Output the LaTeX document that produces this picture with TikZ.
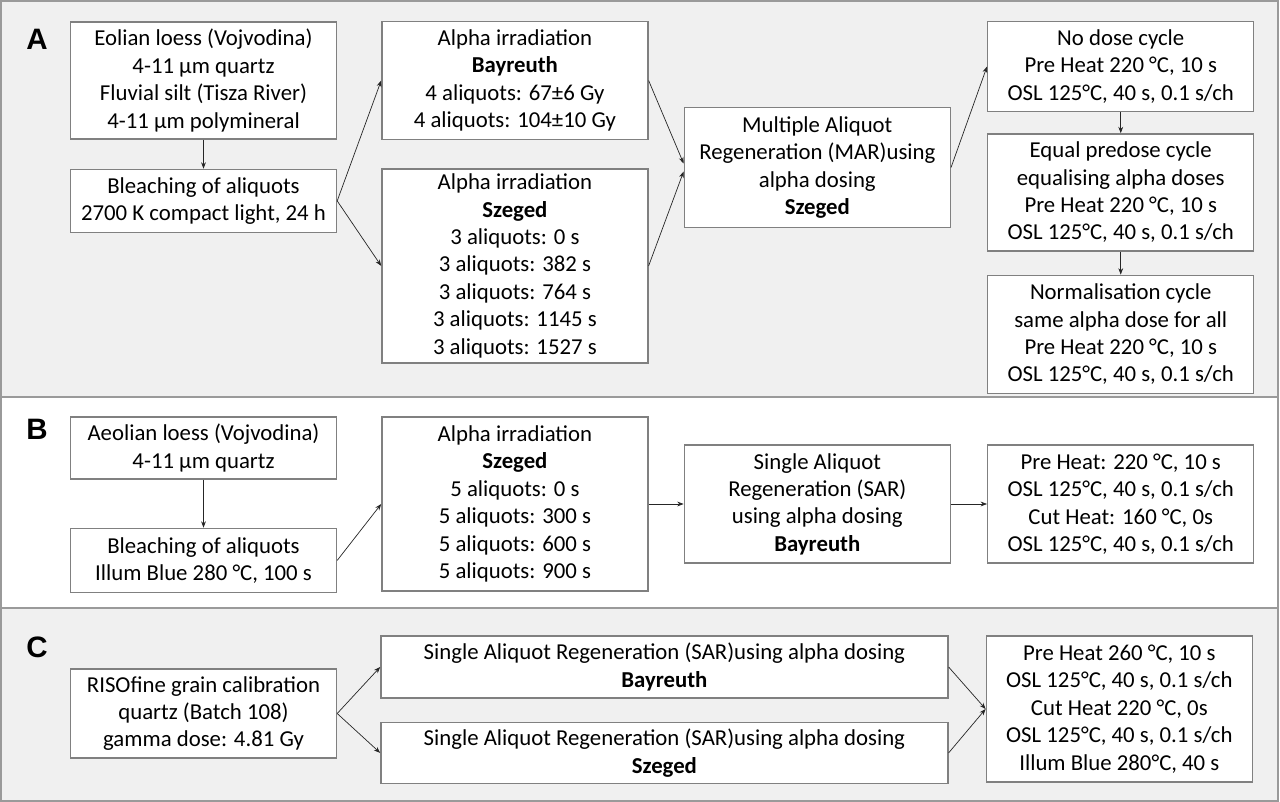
\documentclass[tikz,border=0pt]{standalone}
\usepackage{fontspec}
\setmainfont{Carlito}
\newfontfamily\labelfont{Liberation Sans}
\usetikzlibrary{arrows.meta, positioning}
\definecolor{PanelFill}{HTML}{F0F0F0}
\definecolor{PanelEdge}{HTML}{9A9A9A}
\definecolor{BoxEdge}{HTML}{808080}
\tikzset{
  pbox/.style={draw=BoxEdge, line width=1pt, fill=white, align=center,
    minimum width=66.5mm, inner sep=0pt, font=\fontsize{16.2}{19.5}\selectfont},
  wbox/.style={pbox, minimum width=141.75mm},
  plabel/.style={font=\labelfont\bfseries\fontsize{21}{21}\selectfont},
  panel/.style={draw=PanelEdge, line width=1.4pt},
  flow/.style={-{Stealth[length=1.6mm, width=1.2mm]}, line width=0.5pt, draw=black!85},
}

\begin{document}
\begin{tikzpicture}[x=1mm, y=-1mm]
    \useasboundingbox (0,0) rectangle (320,200.5);
    \fill[PanelFill] (0.3,0.3) rectangle (319.4,99.25);
    \fill[white] (0.3,99.25) rectangle (319.4,152);
    \fill[PanelFill] (0.3,152) rectangle (319.4,200.2);
    \draw[panel] (0.3,0.3) rectangle (319.4,200.2);
    \draw[panel] (0.3,99.25) -- (319.4,99.25);
    \draw[panel] (0.3,152) -- (319.4,152);

    \node[plabel] (lblA) at (9.25,9.75) {A};
    \node[pbox, minimum height=29.25mm] (aSrc) at (50.875,20.125)
      {Eolian loess (Vojvodina)\\4-11 µm quartz\\Fluvial silt (Tisza River)\\4-11 µm polymineral};
    \node[pbox, minimum height=15.75mm, below=7.25mm of aSrc] (aBleach)
      {Bleaching of aliquots\\2700 K compact light, 24 h};
    \node[pbox, minimum height=29.5mm, right=11mm of aSrc] (aBay)
      {Alpha irradiation\\\textbf{Bayreuth}\\4 aliquots: 67±6 Gy\\4 aliquots: 104±10 Gy};
    \node[pbox, minimum height=48.5mm, below=7mm of aBay] (aSzeged)
      {Alpha irradiation\\\textbf{Szeged}\\3 aliquots: 0 s\\3 aliquots: 382 s\\3 aliquots: 764 s\\3 aliquots: 1145 s\\3 aliquots: 1527 s};
    \node[pbox, minimum height=30mm, right=8.75mm of aBay, yshift=-21.75mm] (aMar)
      {Multiple Aliquot\\Regeneration (MAR)using\\alpha dosing\\\textbf{Szeged}};
    \node[pbox, minimum height=22.5mm, right=9mm of aMar, yshift=25.25mm] (aNoDose)
      {No dose cycle\\Pre Heat 220 °C, 10 s\\OSL 125°C, 40 s, 0.1 s/ch};
    \node[pbox, minimum height=29.25mm, below=5.25mm of aNoDose] (aEqual)
      {Equal predose cycle\\equalising alpha doses\\Pre Heat 220 °C, 10 s\\OSL 125°C, 40 s, 0.1 s/ch};
    \node[pbox, minimum height=29.5mm, below=5.75mm of aEqual] (aNorm)
      {Normalisation cycle\\same alpha dose for all\\Pre Heat 220 °C, 10 s\\OSL 125°C, 40 s, 0.1 s/ch};

    \node[plabel] (lblB) at (9.25,107.25) {B};
    \node[pbox, minimum height=15.5mm] (bSrc) at (50.875,112)
      {Aeolian loess (Vojvodina)\\4-11 µm quartz};
    \node[pbox, minimum height=16mm, below=12mm of bSrc] (bBleach)
      {Bleaching of aliquots\\Illum Blue 280 °C, 100 s};
    \node[pbox, minimum height=43.5mm, right=11mm of bSrc, yshift=-14mm] (bSzeged)
      {Alpha irradiation\\\textbf{Szeged}\\5 aliquots: 0 s\\5 aliquots: 300 s\\5 aliquots: 600 s\\5 aliquots: 900 s};
    \node[pbox, minimum height=29.5mm, right=8.75mm of bSzeged] (bSar)
      {Single Aliquot\\Regeneration (SAR)\\using alpha dosing\\\textbf{Bayreuth}};
    \node[pbox, minimum height=29.5mm, right=9mm of bSar] (bSteps)
      {Pre Heat: 220 °C, 10 s\\OSL 125°C, 40 s, 0.1 s/ch\\Cut Heat: 160 °C, 0s\\OSL 125°C, 40 s, 0.1 s/ch};

    \node[plabel] (lblC) at (9.25,161.75) {C};
    \node[pbox, minimum height=22.25mm] (cSrc) at (50.875,178.375)
      {RISOfine grain calibration\\quartz (Batch 108)\\gamma dose: 4.81 Gy};
    \node[wbox, minimum height=15.5mm, right=10.75mm of cSrc, yshift=11.625mm] (cBay)
      {Single Aliquot Regeneration (SAR)using alpha dosing\\\textbf{Bayreuth}};
    \node[wbox, minimum height=15.25mm, below=5.75mm of cBay] (cSzeged)
      {Single Aliquot Regeneration (SAR)using alpha dosing\\\textbf{Szeged}};
    \node[pbox, minimum height=36.5mm, right=9.25mm of cBay, yshift=-10.5mm] (cSteps)
      {Pre Heat 260 °C, 10 s\\OSL 125°C, 40 s, 0.1 s/ch\\Cut Heat 220 °C, 0s\\OSL 125°C, 40 s, 0.1 s/ch\\Illum Blue 280°C, 40 s};

    \draw[flow] (aSrc) -- (aBleach);
    \draw[flow] (aBleach.east) -- (aBay.west);
    \draw[flow] (aBleach.east) -- (aSzeged.west);
    \draw[flow] (aBay.east) -- ([yshift=1mm]aMar.west);
    \draw[flow] (aSzeged.east) -- ([yshift=-1mm]aMar.west);
    \draw[flow] (aMar.east) -- (aNoDose.west);
    \draw[flow] (aNoDose) -- (aEqual);
    \draw[flow] (aEqual) -- (aNorm);

    \draw[flow] (bSrc) -- (bBleach);
    \draw[flow] (bBleach.east) -- (bSzeged.west);
    \draw[flow] (bSzeged) -- (bSar);
    \draw[flow] (bSar) -- (bSteps);

    \draw[flow] (cSrc.east) -- (cBay.west);
    \draw[flow] (cSrc.east) -- (cSzeged.west);
    \draw[flow] (cBay.east) -- (cSteps.west);
    \draw[flow] (cSzeged.east) -- (cSteps.west);
  \end{tikzpicture}
\end{document}
